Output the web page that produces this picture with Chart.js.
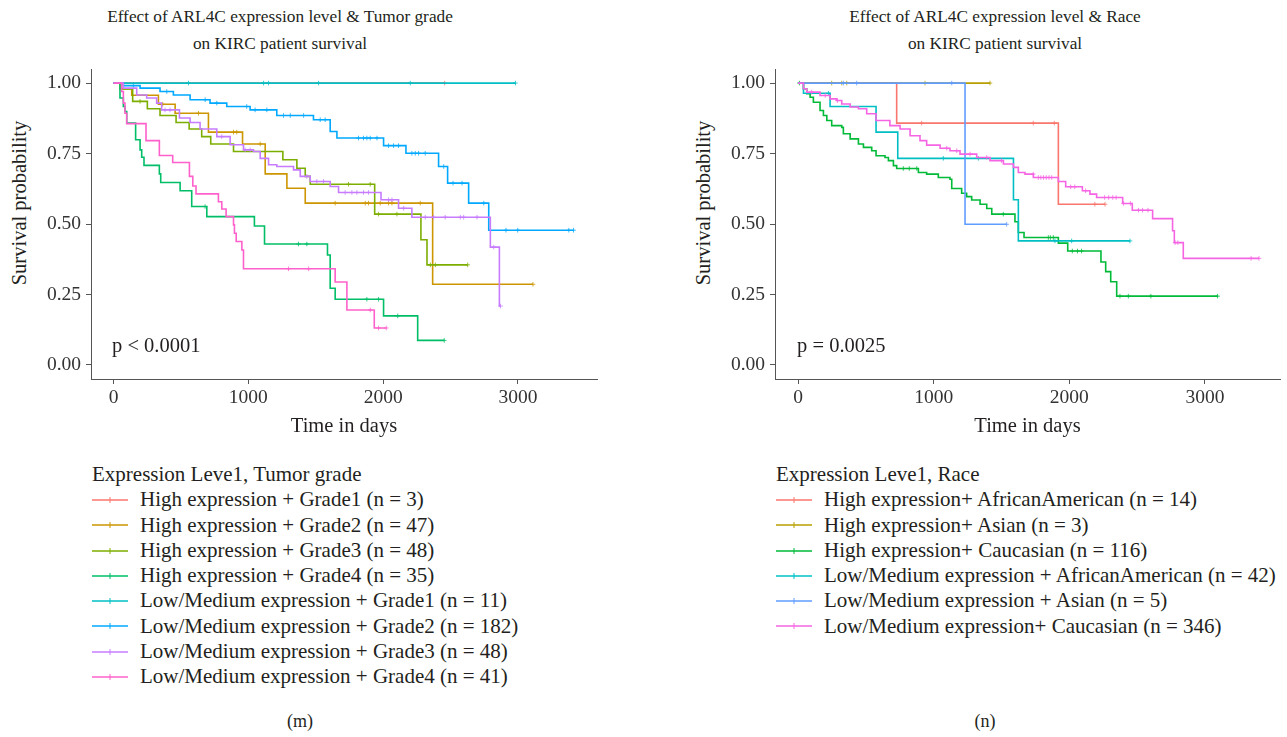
<!DOCTYPE html>
<html>
<head>
<meta charset="utf-8">
<script src="https://cdn.jsdelivr.net/npm/chart.js@4.4.1/dist/chart.umd.min.js"></script>
<style>
  body { margin: 0; background: #fff; width: 1287px; height: 737px; position: relative; overflow: hidden;
         font-family: "Liberation Serif", "DejaVu Serif", serif; color: #231f20; }
  canvas { position: absolute; top: 0; }
  .title { position: absolute; top: 3px; width: 500px; font-size: 17.3px; line-height: 27px; text-align: center; }
  .ytitle { position: absolute; font-size: 20.5px; white-space: nowrap; transform: translate(-50%, -50%) rotate(-90deg); }
  .legend { position: absolute; top: 462px; font-size: 21px; }
  .legend .row { height: 25.3px; line-height: 25.3px; display: flex; align-items: center; white-space: nowrap; }
  .legend svg { margin-right: 12px; }
  .caption { position: absolute; top: 711px; font-size: 18px; transform: translateX(-50%); }
</style>
</head>
<body>
<div class="title" style="left:30px">Effect of ARL4C expression level &amp; Tumor grade<br>on KIRC patient survival</div>
<div class="title" style="left:745px">Effect of ARL4C expression level &amp; Race<br>on KIRC patient survival</div>
<div class="ytitle" style="left:19px;top:203px">Survival probability</div>
<div class="ytitle" style="left:703px;top:203px">Survival probability</div>
<canvas id="chartM" width="640" height="450" style="left:0"></canvas>
<canvas id="chartN" width="603" height="450" style="left:684px"></canvas>
<div class="legend" id="legendM" style="left:92px"></div>
<div class="legend" id="legendN" style="left:776px"></div>
<div class="caption" style="left:300px">(m)</div>
<div class="caption" style="left:985px">(n)</div>

<script>
// axis ticks
const xTicks = [0, 1000, 2000, 3000];
const yTicks = [0, 0.25, 0.5, 0.75, 1];

// ---- panel (m): expression level + tumor grade ----
const gradeNames = [
  "High expression + Grade1 (n = 3)",
  "High expression + Grade2 (n = 47)",
  "High expression + Grade3 (n = 48)",
  "High expression + Grade4 (n = 35)",
  "Low/Medium expression + Grade1 (n = 11)",
  "Low/Medium expression + Grade2 (n = 182)",
  "Low/Medium expression + Grade3 (n = 48)",
  "Low/Medium expression + Grade4 (n = 41)"
];
const gradeColors = ["#F8766D", "#CD9600", "#7CAE00", "#00BE67", "#00BFC4", "#00A9FF", "#C77CFF", "#FF61CC"];

// event times (days), survival after each step, censor times
const hg1Time = [], hg1Surv = [], hg1Cens = [2456];
const hg2Time = [60, 135, 333, 457, 704, 957, 1125, 1286, 1422, 2367];
const hg2Surv = [0.979, 0.957, 0.925, 0.893, 0.826, 0.784, 0.678, 0.627, 0.574, 0.286];
const hg2Cens = [365, 630, 890, 914, 1088, 1644, 1867, 1891, 1978, 2040, 2065, 2275, 3111];
const hg3Time = [48, 142, 251, 345, 464, 561, 654, 721, 890, 1256, 1360, 1422, 1459, 1937, 2280, 2325];
const hg3Surv = [0.979, 0.935, 0.909, 0.885, 0.860, 0.837, 0.810, 0.784, 0.757, 0.728, 0.698, 0.669, 0.641, 0.535, 0.444, 0.355];
const hg3Cens = [197, 1743, 1904, 1966, 2102, 2350, 2387, 2627];
const hg4Time = [48, 73, 85, 98, 164, 197, 209, 226, 340, 350, 494, 580, 692, 1045, 1120, 1587, 1607, 1644, 2003, 2256];
const hg4Surv = [0.947, 0.917, 0.899, 0.858, 0.799, 0.763, 0.737, 0.708, 0.678, 0.647, 0.618, 0.562, 0.526, 0.493, 0.429, 0.390, 0.272, 0.233, 0.174, 0.087];
const hg4Cens = [679, 1372, 1434, 1879, 1966, 2108, 2453];
const lg1Time = [], lg1Surv = [], lg1Cens = [556, 1113, 1150, 1521, 2201, 2981];
const lg2Time = [73, 197, 345, 444, 568, 716, 840, 1013, 1211, 1483, 1607, 1657, 2003, 2169, 2411, 2478, 2634, 2783];
const lg2Surv = [0.991, 0.982, 0.970, 0.958, 0.941, 0.929, 0.917, 0.905, 0.885, 0.870, 0.828, 0.805, 0.778, 0.751, 0.704, 0.645, 0.574, 0.478];
const lg2Cens = [147, 395, 680, 766, 988, 1050, 1137, 1261, 1311, 1410, 1533, 1570, 1817, 1854, 1879, 1904, 1954, 2040, 2077,
                 2114, 2213, 2238, 2263, 2312, 2449, 2518, 2585, 2746, 2911, 2998, 3377, 3412];
const lg3Time = [73, 172, 246, 320, 357, 489, 568, 642, 766, 865, 964, 1038, 1088, 1150, 1211, 1335, 1385, 1459, 1607, 1669, 1984, 2114, 2213, 2795, 2862];
const lg3Surv = [0.982, 0.958, 0.947, 0.929, 0.905, 0.876, 0.860, 0.837, 0.810, 0.781, 0.763, 0.757, 0.733, 0.710, 0.704, 0.692, 0.669, 0.651, 0.633, 0.612, 0.586, 0.556, 0.524, 0.418, 0.209];
const lg3Cens = [382, 419, 803, 976, 1013, 1434, 1508, 1558, 1718, 1768, 1805, 1854, 1891, 2040, 2065, 2152, 2312, 2374, 2460, 2572, 2597, 2696, 2820, 2870];
const lg4Time = [60, 73, 85, 98, 241, 340, 439, 563, 588, 612, 778, 803, 835, 890, 897, 910, 952, 964, 1644, 1731, 1934];
const lg4Surv = [0.970, 0.929, 0.893, 0.856, 0.796, 0.743, 0.718, 0.669, 0.635, 0.607, 0.579, 0.553, 0.526, 0.497, 0.467, 0.438, 0.408, 0.341, 0.294, 0.195, 0.131];
const lg4Cens = [1298, 1447, 1904, 1966, 2023];

// ---- panel (n): expression level + race ----
const raceNames = [
  "High expression+ AfricanAmerican (n = 14)",
  "High expression+ Asian (n = 3)",
  "High expression+ Caucasian (n = 116)",
  "Low/Medium expression + AfricanAmerican (n = 42)",
  "Low/Medium expression + Asian (n = 5)",
  "Low/Medium expression+ Caucasian (n = 346)"
];
const raceColors = ["#F8766D", "#B79F00", "#00BA38", "#00BFC4", "#619CFF", "#F564E3"];

const haaTime = [727, 1919], haaSurv = [0.858, 0.570], haaCens = [911, 1734, 1889, 2188, 2263];
const hasTime = [], hasSurv = [], hasCens = [248, 322, 359, 936, 1415];
const hcaTime = [40, 64, 89, 113, 162, 187, 212, 248, 322, 334, 384, 445, 482, 543, 575, 641, 666, 703, 727, 887, 948, 1034, 1120,
                 1133, 1206, 1243, 1280, 1342, 1391, 1428, 1599, 1624, 1666, 1919, 1988, 2233, 2268, 2305, 2349];
const hcaSurv = [0.980, 0.962, 0.950, 0.932, 0.903, 0.885, 0.867, 0.849, 0.843, 0.820, 0.802, 0.784, 0.772, 0.760, 0.742, 0.736, 0.725,
                 0.707, 0.697, 0.683, 0.677, 0.665, 0.659, 0.626, 0.609, 0.597, 0.585, 0.570, 0.555, 0.535, 0.508, 0.470, 0.452,
                 0.432, 0.404, 0.365, 0.331, 0.295, 0.244];
const hcaCens = [10, 776, 820, 875, 1513, 1845, 1860, 1882, 2022, 2060, 2090, 2373, 2435, 2601, 3093];
const laaTime = [40, 236, 575, 735, 1588, 1624], laaSurv = [0.964, 0.917, 0.826, 0.733, 0.586, 0.440];
const laaCens = [224, 1071, 1329, 1894, 2017, 2447];
const lasTime = [1231], lasSurv = [0.499], lasCens = [334, 432, 1133, 1538];
const lcaTime = [40, 64, 162, 236, 285, 322, 384, 445, 506, 575, 677, 752, 826, 899, 948, 1047, 1120, 1194, 1317, 1415, 1514, 1588,
                 1624, 1673, 1735, 1919, 1973, 2096, 2152, 2201, 2393, 2464, 2614, 2761, 2774, 2840];
const lcaSurv = [0.980, 0.968, 0.956, 0.944, 0.938, 0.926, 0.915, 0.909, 0.891, 0.867, 0.849, 0.837, 0.813, 0.796, 0.780, 0.769, 0.760,
                 0.748, 0.736, 0.725, 0.713, 0.701, 0.683, 0.677, 0.665, 0.651, 0.632, 0.618, 0.606, 0.594, 0.573, 0.549, 0.519,
                 0.476, 0.434, 0.378];
const lcaCens = [100, 200, 290, 1096, 1170, 1268, 1391, 1500, 1734, 1771, 1790, 1810, 1830, 1850, 1870, 2010, 2040, 2120, 2260,
                 2290, 2320, 2345, 2400, 2450, 2510, 2540, 2580, 2780, 2800, 3340, 3398];

const FONT = '"Liberation Serif", "DejaVu Serif", serif';

// build step points for one curve, censor marks sit on the curve
function kmPoints(times, survs, cens) {
  const pts = [{ x: 0, y: 1, c: 0 }];
  times.forEach((t, i) => pts.push({ x: t, y: survs[i], c: 0 }));
  cens.forEach(t => {
    let s = 1;
    times.forEach((tt, i) => { if (tt <= t) s = survs[i]; });
    pts.push({ x: t, y: s, c: 1 });
  });
  pts.sort((a, b) => a.x - b.x || a.c - b.c);
  return pts;
}

const pvalPlugin = {
  id: 'pval',
  afterDatasetsDraw(chart, args, opts) {
    const { ctx, scales: { x, y } } = chart;
    ctx.save();
    ctx.font = '20.5px ' + FONT;
    ctx.fillStyle = '#231f20';
    ctx.textBaseline = 'middle';
    ctx.fillText(opts.text, x.getPixelForValue(opts.at[0]), y.getPixelForValue(opts.at[1]));
    ctx.restore();
  }
};

function makeChart(id, names, colors, curves, xMin, xMax, padRight, pText, pAt) {
  const n = names.length;
  const datasets = curves.map((c, i) => ({
    label: names[i],
    data: kmPoints(c[0], c[1], c[2]),
    borderColor: colors[i],
    backgroundColor: colors[i],
    borderWidth: 1.6,
    stepped: true,
    fill: false,
    order: n - i,
    pointStyle: 'cross',
    pointRadius: ctx => (ctx.raw && ctx.raw.c ? 2.3 : 0),
    pointBorderWidth: 0.8,
    pointBorderColor: colors[i]
  }));
  return new Chart(document.getElementById(id), {
    type: 'line',
    data: { datasets },
    plugins: [pvalPlugin],
    options: {
      responsive: false,
      animation: false,
      layout: { padding: { top: 69, right: padRight, left: 0, bottom: 0 } },
      plugins: {
        legend: { display: false },
        tooltip: { enabled: false },
        pval: { text: pText, at: pAt }
      },
      scales: {
        x: {
          type: 'linear', min: xMin, max: xMax,
          afterBuildTicks: s => { s.ticks = xTicks.map(v => ({ value: v })); },
          afterFit: s => { s.height = 71; },
          grid: { drawOnChartArea: false, drawTicks: true, tickLength: 5, color: '#555' },
          border: { display: true, color: '#555', width: 1 },
          ticks: { font: { family: FONT, size: 19.5 }, color: '#333', padding: 2, maxRotation: 0, autoSkip: false,
                   callback: v => String(v) },
          title: { display: true, text: 'Time in days', color: '#231f20', font: { family: FONT, size: 20.5 },
                   padding: { top: 0, bottom: 11 } }
        },
        y: {
          type: 'linear', min: -0.05, max: 1.05,
          afterBuildTicks: s => { s.ticks = yTicks.map(v => ({ value: v })); },
          afterFit: s => { s.width = 91; },
          grid: { drawOnChartArea: false, drawTicks: true, tickLength: 5, color: '#555' },
          border: { display: true, color: '#555', width: 1 },
          ticks: { font: { family: FONT, size: 19.5 }, color: '#333', padding: 5, callback: v => v.toFixed(2) }
        }
      }
    }
  });
}

function makeLegend(id, title, names, colors) {
  const box = document.getElementById(id);
  let html = '<div class="row">' + title + '</div>';
  names.forEach((name, i) => {
    html += '<div class="row"><svg width="36" height="12"><line x1="0" y1="6" x2="36" y2="6" stroke="' + colors[i] +
            '" stroke-width="1.6"/><line x1="18" y1="3" x2="18" y2="9" stroke="' + colors[i] +
            '" stroke-width="1"/></svg>' + name + '</div>';
  });
  box.innerHTML = html;
}

makeChart('chartM', gradeNames, gradeColors, [
  [hg1Time, hg1Surv, hg1Cens], [hg2Time, hg2Surv, hg2Cens], [hg3Time, hg3Surv, hg3Cens], [hg4Time, hg4Surv, hg4Cens],
  [lg1Time, lg1Surv, lg1Cens], [lg2Time, lg2Surv, lg2Cens], [lg3Time, lg3Surv, lg3Cens], [lg4Time, lg4Surv, lg4Cens]
], -167, 3586, 43, 'p < 0.0001', [-11, 0.064]);

makeChart('chartN', raceNames, raceColors, [
  [haaTime, haaSurv, haaCens], [hasTime, hasSurv, hasCens], [hcaTime, hcaSurv, hcaCens],
  [laaTime, laaSurv, laaCens], [lasTime, lasSurv, lasCens], [lcaTime, lcaSurv, lcaCens]
], -170, 3553, 7, 'p = 0.0025', [-7, 0.064]);

makeLegend('legendM', 'Expression Leve1, Tumor grade', gradeNames, gradeColors);
makeLegend('legendN', 'Expression Leve1, Race', raceNames, raceColors);
</script>
</body>
</html>
